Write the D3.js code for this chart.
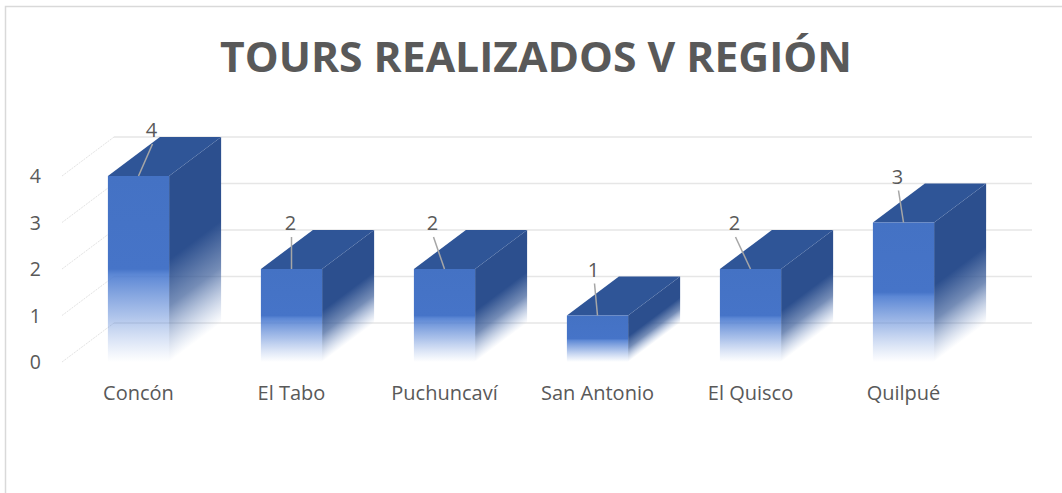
<!DOCTYPE html>
<html>
<head>
<meta charset="utf-8">
<script src="https://cdn.jsdelivr.net/npm/d3@7"></script>
<style>
  body { margin: 0; background: #fff; }
  text { font-family: "Open Sans", sans-serif; fill: #595959; }
</style>
</head>
<body>
<svg id="chart" width="1062" height="493"></svg>
<script>
// data
var comunas = ['Concón', 'El Tabo', 'Puchuncaví', 'San Antonio', 'El Quisco', 'Quilpué'];
var tours = [4, 2, 2, 1, 2, 3];
var yTicks = [0, 1, 2, 3, 4];
var chartTitle = 'TOURS REALIZADOS V REGIÓN';
// small sideways nudges of the data labels (leader lines go back to the bar)
var labelNudge = [13, -1, -12, -4, -16, -6];

var svg = d3.select('#chart');
var depth = { dx: 52, dy: -39 }; // 3d offset of the back wall

// outer chart border, runs off the right / bottom of the picture
svg.append('rect').attr('x', 5.5).attr('y', 6.5).attr('width', 1100).attr('height', 600)
  .attr('fill', 'none').attr('stroke', '#d9d9d9').attr('stroke-width', 1.5);

svg.append('text').attr('x', 536).attr('y', 72).attr('text-anchor', 'middle')
  .attr('font-size', 42).attr('font-weight', 700)
  .attr('textLength', 632).attr('lengthAdjust', 'spacingAndGlyphs')
  .text(chartTitle);

var x = d3.scaleBand().domain(comunas).range([62, 980]).paddingInner(0.6).paddingOuter(0.3);
var y = d3.scaleLinear().domain([0, 4]).range([362, 176]);

var grid = svg.append('g');
// side wall gridlines (diagonal) and back wall gridlines
grid.selectAll('line.side').data(yTicks).enter().append('line')
  .attr('x1', x.range()[0]).attr('y1', function(d) { return y(d); })
  .attr('x2', x.range()[0] + depth.dx).attr('y2', function(d) { return y(d) + depth.dy; })
  .attr('stroke', '#e3e3e3').attr('stroke-width', 1).attr('stroke-dasharray', '2,1');
grid.selectAll('line.back').data(yTicks).enter().append('line')
  .attr('x1', x.range()[0] + depth.dx).attr('y1', function(d) { return y(d) + depth.dy; })
  .attr('x2', x.range()[1] + depth.dx).attr('y2', function(d) { return y(d) + depth.dy; })
  .attr('stroke', '#e6e6e6').attr('stroke-width', 1.3);

// y tick labels on the front plane
svg.append('g').selectAll('text').data(yTicks).enter().append('text')
  .attr('x', 41).attr('y', function(d) { return y(d) + 7; })
  .attr('text-anchor', 'end').attr('font-size', 19.5)
  .text(function(d) { return d; });

var defs = svg.append('defs');
var front = defs.append('linearGradient').attr('id', 'gFront')
  .attr('x1', 0).attr('y1', 0).attr('x2', 0).attr('y2', 1);
[[0, '#4472c4', 1], [0.5, '#4674c8', 1], [0.53, '#4a7ad0', 0.9], [0.75, '#5a86d6', 0.5], [1, '#7398dc', 0]]
  .forEach(function(s) {
    front.append('stop').attr('offset', s[0]).attr('stop-color', s[1]).attr('stop-opacity', s[2]);
  });

var bars = svg.append('g').selectAll('g').data(tours).enter().append('g');

bars.each(function(v, i) {
  var g = d3.select(this);
  var xl = x(comunas[i]), xr = xl + x.bandwidth();
  var yt = y(v), yb = y(0);
  var dx = depth.dx, dy = depth.dy;

  // side gradient: fade runs parallel to the depth direction
  var n = [0.6, 0.8], len = 0.8 * (yb - yt);
  var side = defs.append('linearGradient').attr('id', 'gSide' + i)
    .attr('gradientUnits', 'userSpaceOnUse')
    .attr('x1', xr).attr('y1', yt).attr('x2', xr + n[0] * len).attr('y2', yt + n[1] * len);
  [[0, '#2c4f8e', 1], [0.45, '#2c4f8e', 1], [0.7, '#3a5c98', 0.7], [1, '#6f8fc8', 0]].forEach(function(s) {
    side.append('stop').attr('offset', s[0]).attr('stop-color', s[1]).attr('stop-opacity', s[2]);
  });

  g.append('polygon')
    .attr('points', [[xr, yt], [xr + dx, yt + dy], [xr + dx, yb + dy], [xr, yb]].join(' '))
    .attr('fill', 'url(#gSide' + i + ')');
  g.append('polygon')
    .attr('points', [[xl, yt], [xl + dx, yt + dy], [xr + dx, yt + dy], [xr, yt]].join(' '))
    .attr('fill', '#2f5597');
  g.append('rect').attr('x', xl).attr('y', yt).attr('width', x.bandwidth()).attr('height', yb - yt)
    .attr('fill', 'url(#gFront)');

  // data label with leader line
  var cx = xl + x.bandwidth() / 2;
  var lx = cx + labelNudge[i], ly = yt + dy - 7;
  g.append('line').attr('x1', lx + 1).attr('y1', ly + 14).attr('x2', cx).attr('y2', yt)
    .attr('stroke', '#a6a6a6').attr('stroke-width', 1.5);
  g.append('text').attr('x', lx).attr('y', ly + 7).attr('text-anchor', 'middle')
    .attr('font-size', 20).text(v);
});

// category labels
svg.append('g').selectAll('text').data(comunas).enter().append('text')
  .attr('x', function(d) { return x(d) + x.bandwidth() / 2; })
  .attr('y', 400).attr('text-anchor', 'middle').attr('font-size', 20)
  .text(function(d) { return d; });
</script>
</body>
</html>
